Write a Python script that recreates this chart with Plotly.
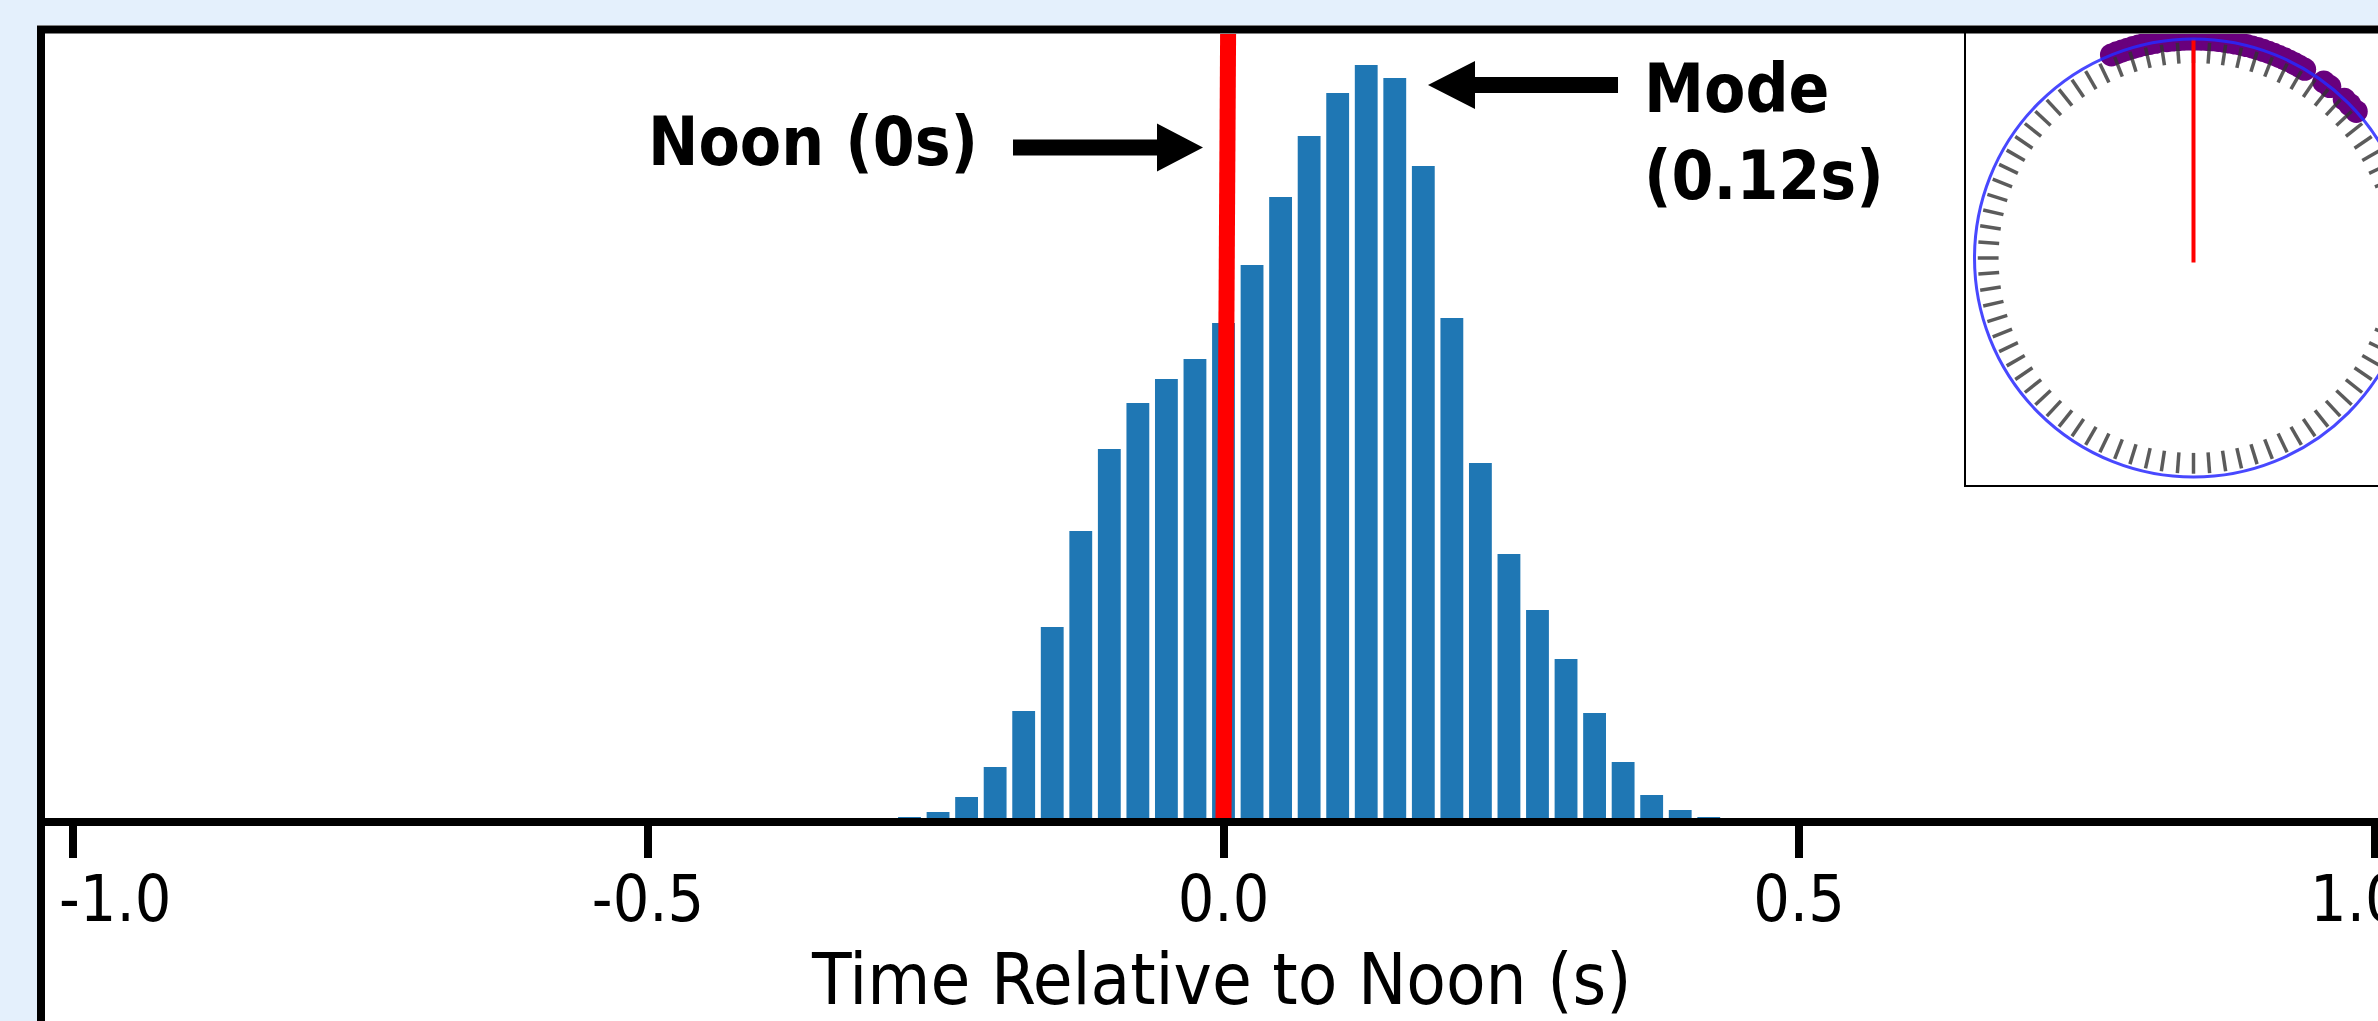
import numpy as np
import plotly.graph_objects as go

# ---------------- data ----------------
bin_centers = [-0.2728, -0.2480, -0.2232, -0.1984, -0.1736, -0.1488, -0.1240,
               -0.0992, -0.0744, -0.0496, -0.0248, 0.0000, 0.0248, 0.0496,
               0.0744, 0.0992, 0.1240, 0.1488, 0.1736, 0.1984, 0.2232,
               0.2480, 0.2728, 0.2976, 0.3224, 0.3472, 0.3720, 0.3968, 0.4216]
counts = [1, 6, 21, 51, 107, 191, 287, 369, 415, 439, 459, 495, 553, 621,
          682, 725, 753, 740, 652, 500, 355, 264, 208, 159, 105, 56, 23, 8, 1]
bin_width = 0.0248
tick_values = [-1.0, -0.5, 0.0, 0.5, 1.0]
tick_labels = ["-1.0", "-0.5", "0.0", "0.5", "1.0"]
noon_time = 0.0
mode_label = "Mode<br>(0.12s)"
noon_label = "Noon (0s)"
x_title = "Time Relative to Noon (s)"
# inset: sample positions on the dial (degrees clockwise from top)
dot_angles_deg = [-22, -20.5, -19, -17.5, -16, -14.5, -13, -11.5, -10,
                  -7, -5.5, -4, -2.5, -1, 0.5, 2, 3.5, 5, 6.5, 8, 9.5, 11,
                  12.5, 14, 15.5, 17, 18.5, 20, 21.5, 23, 24.5, 26, 27.5,
                  29, 30.5, 36.5, 38.5, 43.5, 45.5, 48]
n_dial_ticks = 84

# ---------------- geometry helpers ----------------
W, H = 2378, 1021
L, T = 45, 34
plot_bottom = 818
B = H - plot_bottom
px_per_unit = 1151.0
x_zero_px = 1223.5
ymax = plot_bottom - T
FONT = "DejaVu Sans Condensed, DejaVu Sans, sans-serif"


def X(px):
    return (px - x_zero_px) / px_per_unit


def Y(py):
    return plot_bottom - py


def PX(px):
    return (px - L) / (W - L)


def PY(py):
    return (plot_bottom - py) / (plot_bottom - T)


fig = go.Figure()

# histogram bars
fig.add_bar(x=bin_centers, y=counts, width=bin_width * 0.8,
            marker=dict(color="#1f77b4", line=dict(width=0)),
            xaxis="x", yaxis="y", hoverinfo="skip")

# ---------------- inset dial ----------------
R_PX = 219.0
cx_px, cy_px = 2193.5, 258.0
theta = np.radians(dot_angles_deg)
fig.add_scatter(x=np.sin(theta), y=np.cos(theta), mode="markers",
                marker=dict(size=23, color="rgb(105,0,125)", line=dict(width=0)),
                xaxis="x2", yaxis="y2", hoverinfo="skip")

dx, dy = [], []
for i in range(n_dial_ticks):
    a = 2 * np.pi * i / n_dial_ticks
    dx += [0.89 * np.sin(a), 0.985 * np.sin(a), None]
    dy += [0.89 * np.cos(a), 0.985 * np.cos(a), None]
fig.add_scatter(x=dx, y=dy, mode="lines",
                line=dict(color="rgba(50,50,50,0.8)", width=3.5),
                xaxis="x2", yaxis="y2", hoverinfo="skip")
fig.add_scatter(x=[0, 0], y=[-0.02, 1.0], mode="lines",
                line=dict(color="red", width=4),
                xaxis="x2", yaxis="y2", hoverinfo="skip")

shapes = []
# white frame background
shapes.append(dict(type="rect", xref="paper", yref="paper",
                   x0=PX(37), x1=PX(2600), y0=PY(1200), y1=PY(25),
                   fillcolor="white", line=dict(width=0), layer="below"))
# inset box
shapes.append(dict(type="rect", xref="paper", yref="paper",
                   x0=PX(1965), x1=PX(2600), y0=PY(486), y1=PY(30),
                   fillcolor="white", line=dict(color="black", width=2),
                   layer="below"))
# dial circle
shapes.append(dict(type="circle", xref="x2", yref="y2", x0=-1, x1=1, y0=-1, y1=1,
                   line=dict(color="rgba(40,40,255,0.85)", width=3), layer="above"))
# noon line
shapes.append(dict(type="line", xref="x", yref="y", x0=noon_time, x1=noon_time + 0.004,
                   y0=0, y1=ymax, line=dict(color="red", width=16), layer="above"))


def arrow_path(tail, base, tip, yc, shaft_half, head_half):
    pts = [(tail, yc - shaft_half), (base, yc - shaft_half), (base, yc - head_half),
           (tip, yc), (base, yc + head_half), (base, yc + shaft_half),
           (tail, yc + shaft_half)]
    return "M " + " L ".join(f"{X(a):.5f},{Y(b):.2f}" for a, b in pts) + " Z"


shapes.append(dict(type="path", xref="x", yref="y",
                   path=arrow_path(1013, 1157, 1203, 147.5, 8, 24),
                   fillcolor="black", line=dict(width=0), layer="above"))
shapes.append(dict(type="path", xref="x", yref="y",
                   path=arrow_path(1618, 1475, 1428, 85, 8, 24),
                   fillcolor="black", line=dict(width=0), layer="above"))
# frame border (on top)
shapes.append(dict(type="rect", xref="paper", yref="paper",
                   x0=PX(41), x1=PX(2600), y0=PY(1200), y1=PY(29.5),
                   fillcolor="rgba(0,0,0,0)", line=dict(color="black", width=8),
                   layer="above"))

annotations = [
    dict(text=noon_label, xref="x", yref="y", x=X(980), y=Y(142),
         xanchor="right", yanchor="middle", showarrow=False,
         font=dict(family=FONT, size=67, color="black", weight="bold")),
    dict(text=mode_label, xref="x", yref="y", x=X(1642), y=Y(132),
         xanchor="left", yanchor="middle", align="left", showarrow=False,
         font=dict(family=FONT, size=67, color="black", weight="bold")),
    dict(text=x_title, xref="x", yref="paper", x=X(1221), y=PY(979),
         xanchor="center", yanchor="middle", showarrow=False,
         font=dict(family=FONT, size=72, color="black")),
    dict(text=tick_labels[0], xref="paper", yref="paper", x=PX(57), y=PY(898.5),
         xanchor="left", yanchor="middle", showarrow=False,
         font=dict(family=FONT, size=64, color="black")),
    dict(text=tick_labels[-1], xref="paper", yref="paper", x=PX(2308), y=PY(898.5),
         xanchor="left", yanchor="middle", showarrow=False,
         font=dict(family=FONT, size=64, color="black")),
]

fig.update_layout(
    width=W, height=H,
    margin=dict(l=L, r=0, t=T, b=B, pad=0),
    paper_bgcolor="#e4f0fc", plot_bgcolor="rgba(0,0,0,0)",
    showlegend=False,
    xaxis=dict(range=[X(L), X(W)], domain=[0, 1], showline=True, linecolor="black",
               linewidth=8, ticks="outside", ticklen=32, tickwidth=8,
               tickcolor="black", tickvals=tick_values,
               ticktext=[""] + tick_labels[1:-1] + [""],
               ticklabelstandoff=-14,
               tickfont=dict(family=FONT, size=64, color="black"),
               showgrid=False, zeroline=False, fixedrange=True),
    yaxis=dict(range=[0, ymax], visible=False, fixedrange=True),
    xaxis2=dict(domain=[PX(1965), 1], anchor="y2", visible=False,
                range=[(1965 - cx_px) / R_PX, (W - cx_px) / R_PX], fixedrange=True),
    yaxis2=dict(domain=[PY(486), 1], anchor="x2", visible=False,
                range=[(cy_px - 486) / R_PX, (cy_px - T) / R_PX], fixedrange=True),
    shapes=shapes,
    annotations=annotations,
)

fig.write_html("out.html", config={"displayModeBar": False},
               post_script="document.body.style.margin='0';document.body.style.overflow='hidden';")
